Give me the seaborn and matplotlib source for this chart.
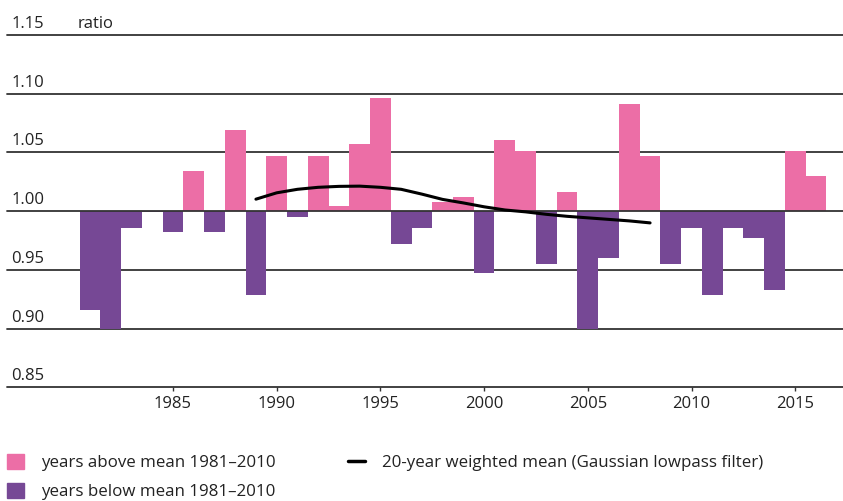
import numpy as np
import pandas as pd
import matplotlib
matplotlib.use('Agg')
import matplotlib.pyplot as plt
from matplotlib.patches import Patch
from matplotlib.lines import Line2D
import seaborn as sns

sns.set_style('white')
plt.rcParams['font.family'] = ['Open Sans', 'DejaVu Sans']

# yearly ratio to the 1981-2010 mean
years = list(range(1981, 2017))
ratio = [0.916, 0.900, 0.986, 0.999, 0.982, 1.034, 0.982, 1.069, 0.929, 1.047,
         0.995, 1.047, 1.004, 1.057, 1.096, 0.972, 0.986, 1.008, 1.012, 0.947,
         1.061, 1.051, 0.955, 1.016, 0.900, 0.960, 1.091, 1.047, 0.955, 0.986,
         0.929, 0.986, 0.977, 0.933, 1.051, 1.030]

# 20-year gaussian weighted mean
smooth_years = list(range(1989, 2009))
smooth_ratio = [1.0102, 1.0156, 1.0186, 1.0203, 1.0211, 1.0213, 1.0203, 1.0186,
                1.0145, 1.0100, 1.0070, 1.0037, 1.0010, 0.9994, 0.9973, 0.9956,
                0.9943, 0.9930, 0.9917, 0.9900]

ytick_vals = [0.85, 0.90, 0.95, 1.00, 1.05, 1.10, 1.15]
xtick_vals = [1985, 1990, 1995, 2000, 2005, 2010, 2015]

pink = '#ec6ea6'
purple = '#764895'
txt = '#222222'

df = pd.DataFrame({'year': years, 'ratio': ratio})
df['dev'] = df['ratio'] - 1
df['side'] = np.where(df['ratio'] >= 1, 'above', 'below')

fig = plt.figure(figsize=(8.43, 5.01), dpi=100)
ax = fig.add_axes([7 / 843, 1 - 387.3 / 501, 836 / 843, (387.3 - 35) / 501])

sns.barplot(data=df, x='year', y='dev', hue='side',
            palette={'above': pink, 'below': purple},
            native_scale=True, width=1, dodge=False, errorbar=None,
            legend=False, saturation=1, linewidth=0, zorder=2, ax=ax)

sns.lineplot(x=smooth_years, y=np.array(smooth_ratio) - 1, color='black',
             lw=2.2, zorder=4, ax=ax)

ax.set_xlim(1977.0, 2017.3)
ax.set_ylim(-0.15, 0.15)

# horizontal rules with labels sitting on top of them
for v in ytick_vals:
    ax.axhline(v - 1, color='#333333', lw=1.3, zorder=3 if v == 1.0 else 1,
               clip_on=False)
    ax.annotate('%.2f' % v, xy=(0, v - 1), xycoords=ax.get_yaxis_transform(),
                xytext=(3, 5), textcoords='offset points', ha='left',
                va='baseline', fontsize=12, color=txt)
ax.annotate('ratio', xy=(0, 0.15), xycoords=ax.get_yaxis_transform(),
            xytext=(51, 5), textcoords='offset points', ha='left',
            va='baseline', fontsize=12, color=txt)

ax.set_yticks([])
ax.set_xticks(xtick_vals)
ax.set_xticklabels([str(y) for y in xtick_vals])
ax.tick_params(axis='x', bottom=True, length=3, width=1, color='#333333',
               pad=3, labelsize=12, labelcolor=txt)
ax.set_xlabel('')
ax.set_ylabel('')
for s in ax.spines.values():
    s.set_visible(False)

handles = [Patch(color=pink, label='years above mean 1981\u20132010'),
           Patch(color=purple, label='years below mean 1981\u20132010'),
           Line2D([], [], color='black', lw=2.5,
                  label='20-year weighted mean (Gaussian lowpass filter)')]
leg = fig.legend(handles=handles, ncol=2, loc='upper left',
                 bbox_to_anchor=(7 / 843, 1 - 454 / 501), frameon=False,
                 fontsize=12.2, handlelength=1.0, handleheight=1.0,
                 handletextpad=1.0, columnspacing=4.3, labelspacing=0.68,
                 borderaxespad=0, borderpad=0)
for t in leg.get_texts():
    t.set_color(txt)

fig.savefig('out.png', dpi=100)
